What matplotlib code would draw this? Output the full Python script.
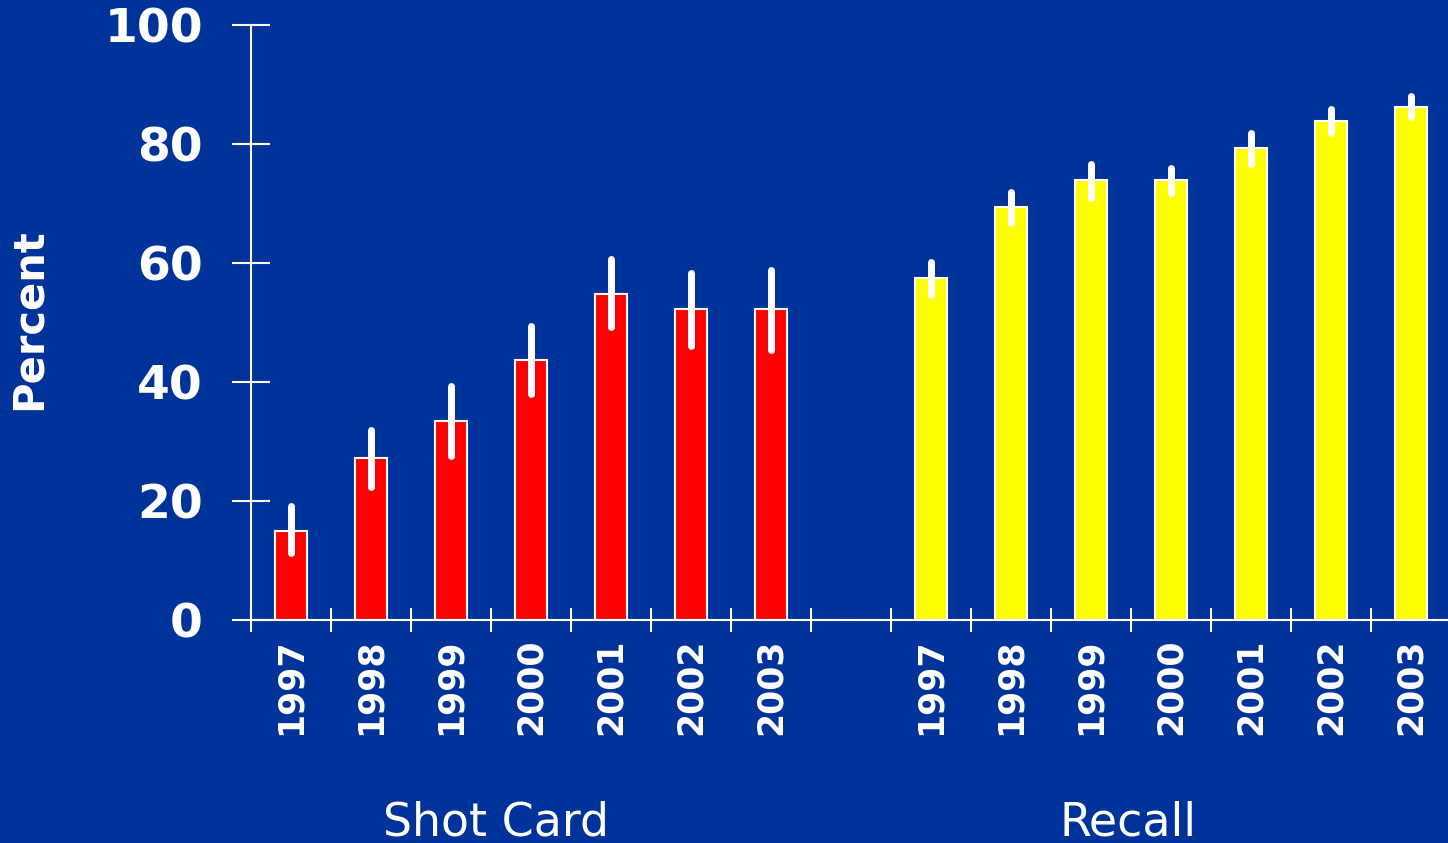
import matplotlib
matplotlib.use("Agg")
import matplotlib.pyplot as plt
import matplotlib.transforms as mtransforms

years = ["1997", "1998", "1999", "2000", "2001", "2002", "2003"]
shot_vals = [15.0, 27.2, 33.4, 43.7, 54.8, 52.3, 52.3]
shot_lo = [11.2, 22.4, 27.5, 37.9, 49.2, 46.1, 45.3]
shot_hi = [19.2, 32.0, 39.4, 49.4, 60.6, 58.4, 58.9]
recall_vals = [57.5, 69.4, 73.9, 73.9, 79.3, 83.9, 86.2]
recall_lo = [54.7, 66.8, 71.0, 71.7, 76.7, 81.8, 84.5]
recall_hi = [60.1, 72.0, 76.7, 76.0, 81.9, 85.8, 88.0]
group_labels = ["Shot Card", "Recall"]

BG = "#003399"
fig = plt.figure(figsize=(14.48, 8.43), dpi=100, facecolor=BG)
ax = fig.add_axes([251/1448, 1-620/843, 1200/1448, (620-25)/843])
ax.set_facecolor(BG)

shot_x = list(range(0, 7))
recall_x = list(range(8, 15))

ax.bar(shot_x, shot_vals, width=0.4, color="#FF0000", edgecolor="white", linewidth=1.5, zorder=2)
ax.bar(recall_x, recall_vals, width=0.4, color="#FFFF00", edgecolor="white", linewidth=1.5, zorder=2)

for xs, lo, hi in [(shot_x, shot_lo, shot_hi), (recall_x, recall_lo, recall_hi)]:
    lc = ax.vlines(xs, lo, hi, colors="white", linewidth=5, zorder=3)
    lc.set_capstyle("round")

ax.set_xlim(-0.5, 14.5)
ax.set_ylim(0, 100)

for s in ["top", "right"]:
    ax.spines[s].set_visible(False)
for s in ["left", "bottom"]:
    ax.spines[s].set_color("white")
    ax.spines[s].set_linewidth(1.5)

ax.set_yticks([0, 20, 40, 60, 80, 100])
ax.set_yticklabels(["0", "20", "40", "60", "80", "100"])
ax.tick_params(axis="y", direction="inout", length=27, width=1.5, color="white",
               labelcolor="white", labelsize=34, pad=21)
for t in ax.get_yticklabels():
    t.set_fontweight("bold")

ax.set_xticks(shot_x + [7] + recall_x)
ax.set_xticklabels(years + [""] + years, rotation=90)
ax.tick_params(axis="x", which="major", length=0, labelcolor="white", labelsize=25, pad=13)
for t in ax.get_xticklabels():
    t.set_fontweight("bold")
ax.set_xticks([i - 0.5 for i in range(15)], minor=True)
ax.tick_params(axis="x", which="minor", direction="inout", length=17, width=1.5, color="white")

ax.set_ylabel("Percent", color="white", fontsize=30, fontweight="bold")
ax.yaxis.set_label_coords(-0.1675, 0.506)

trans = mtransforms.blended_transform_factory(ax.transData, fig.transFigure)
ax.text(2.56, 1-835/843, group_labels[0], transform=trans, ha="center", va="baseline",
        color="white", fontsize=33)
ax.text(10.46, 1-835/843, group_labels[1], transform=trans, ha="center", va="baseline",
        color="white", fontsize=33)

fig.savefig("out.png", dpi=100, facecolor=BG)
